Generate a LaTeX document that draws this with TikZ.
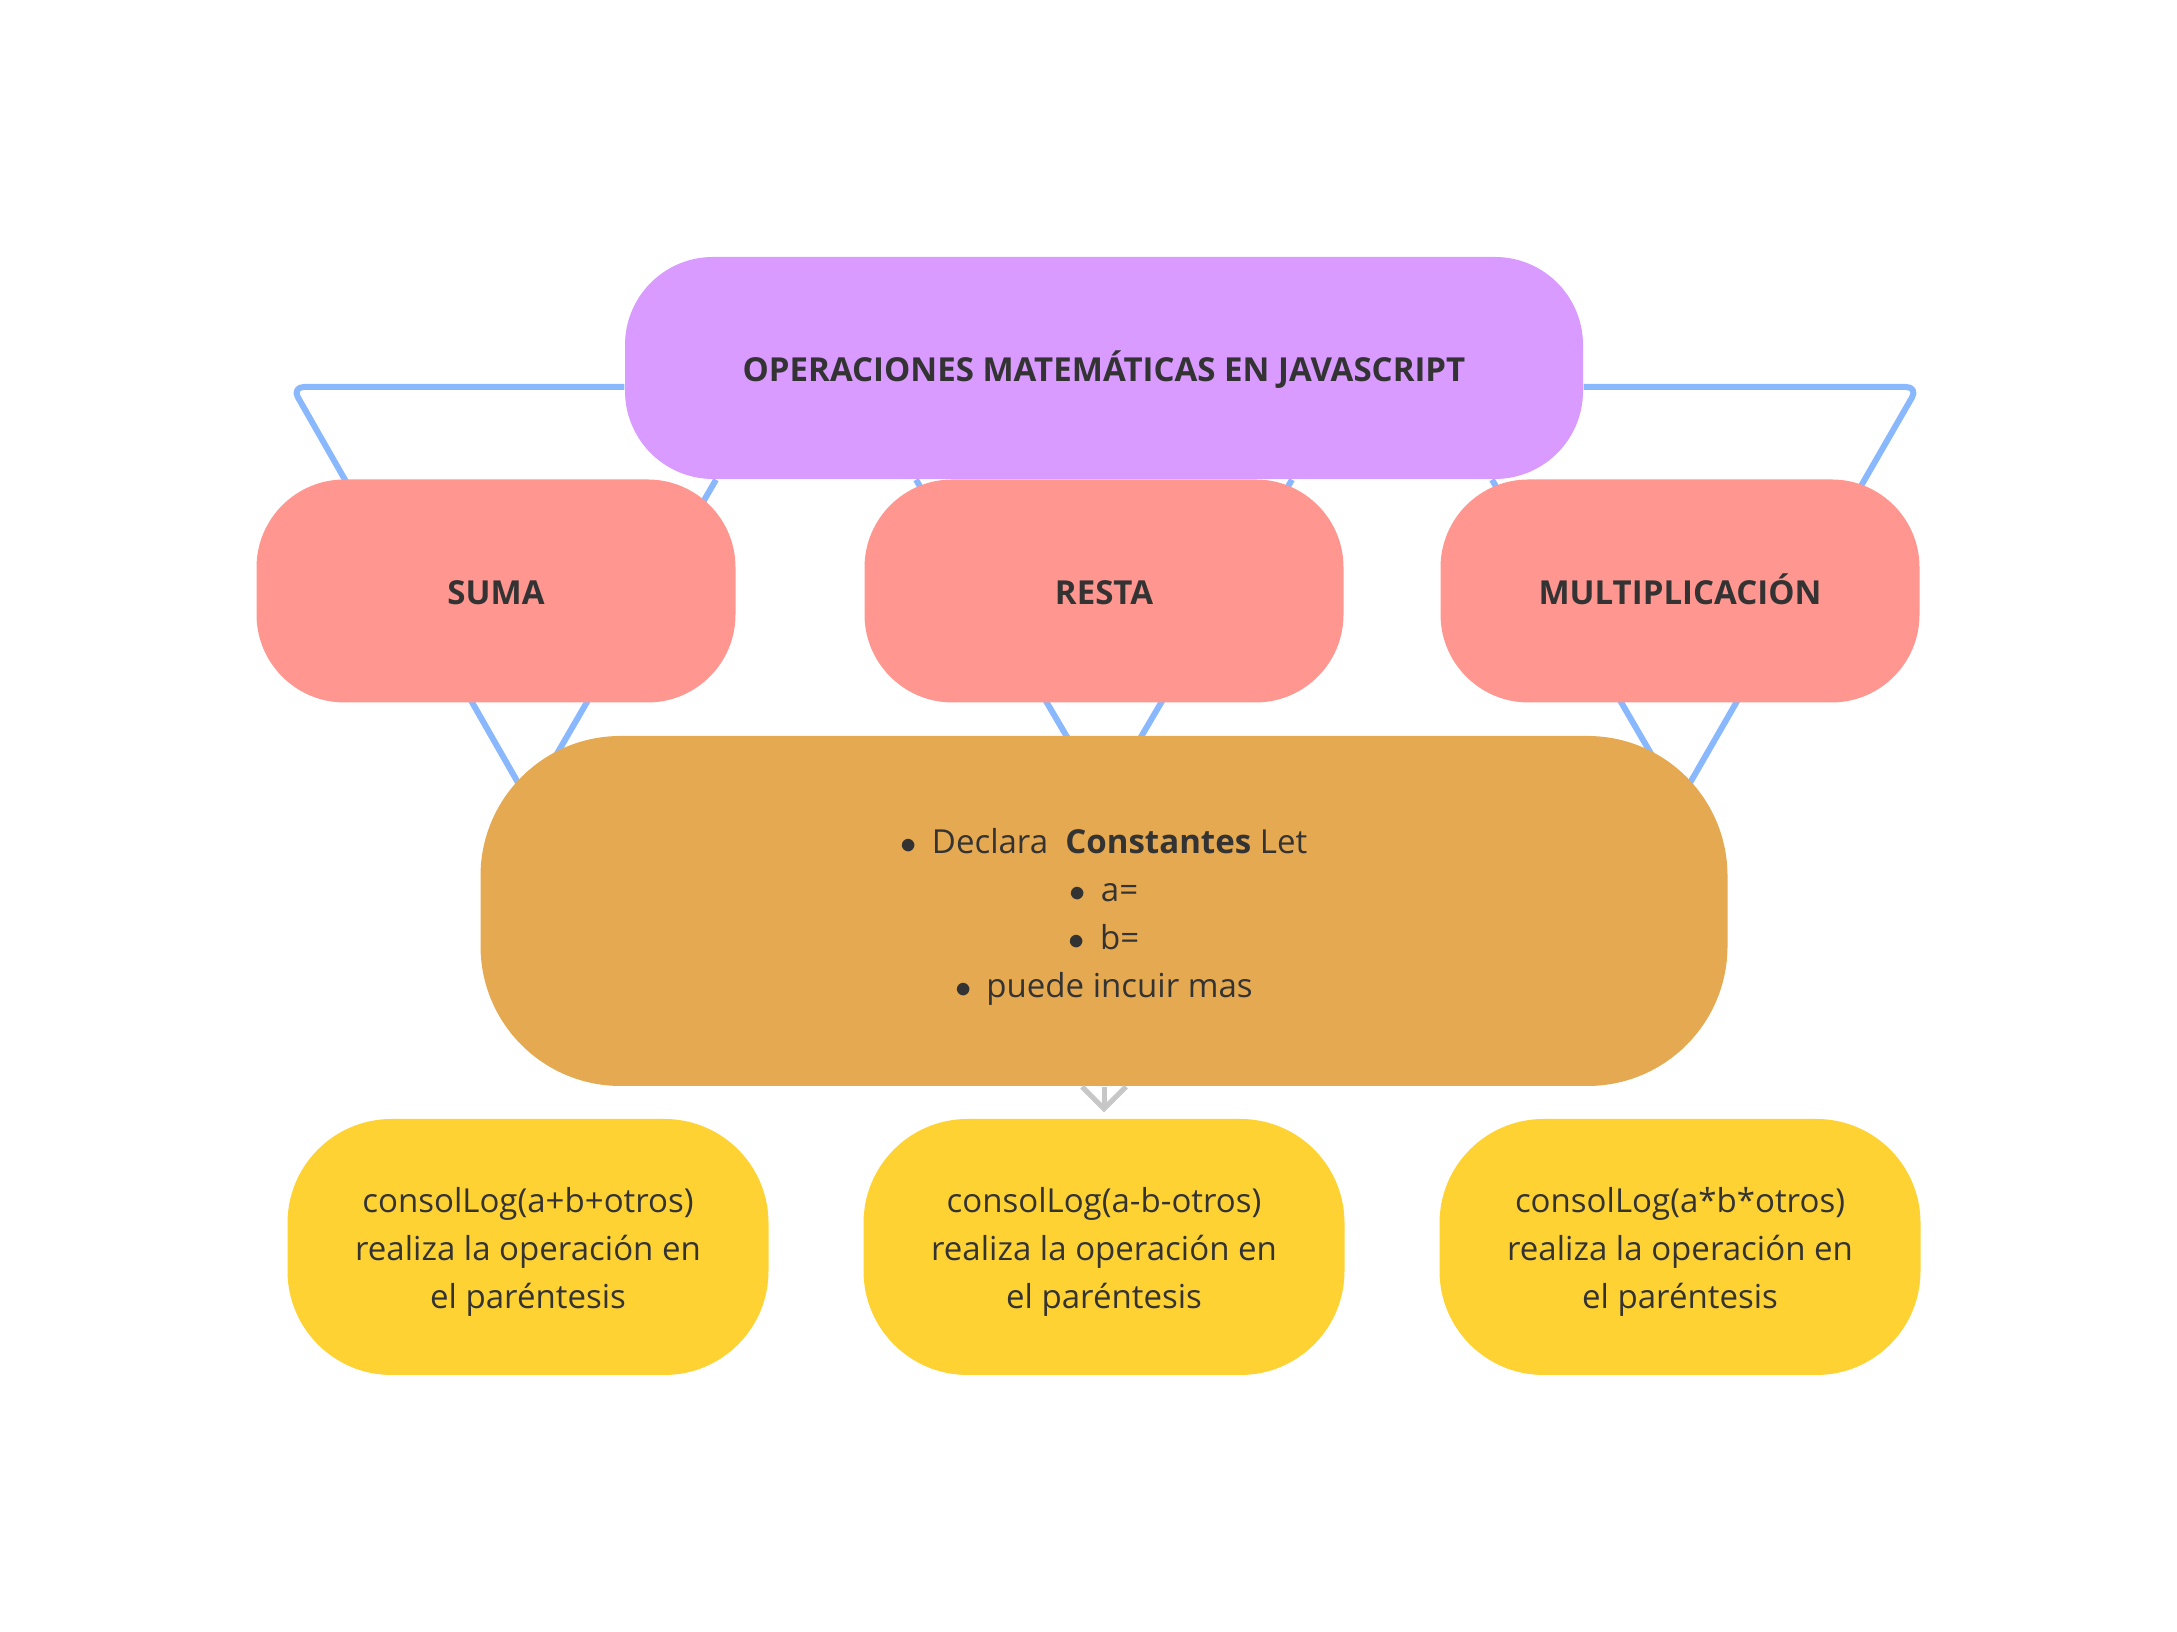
\documentclass[tikz,border=0pt]{standalone}
\usepackage{fontspec}
\setmainfont{Open Sans}
\usetikzlibrary{arrows.meta,backgrounds,calc,positioning}

\definecolor{titlecol}{HTML}{D99BFF}
\definecolor{opcol}{HTML}{FF968F}
\definecolor{infocol}{HTML}{E5A951}
\definecolor{codecol}{HTML}{FFD234}
\definecolor{linkcol}{HTML}{8AB8FF}
\definecolor{arrowcol}{HTML}{C7C7C7}
\definecolor{txt}{HTML}{333333}

\newcommand{\itm}{$\bullet$\hspace{0.45em}}

\tikzset{
  box/.style={inner sep=0pt, text=txt, align=center},
  capbox/.style={box, font=\bfseries, text height=0.27cm, text depth=0pt},
  opbox/.style={capbox, fill=opcol, minimum width=4.79cm, minimum height=2.23cm, rounded corners=0.88cm},
  codebox/.style={box, fill=codecol, minimum width=4.81cm, minimum height=2.56cm, rounded corners=1.04cm, text height=1.30cm},
  link/.style={draw=linkcol, line width=0.06cm, rounded corners=1.2mm, line join=round},
}

\begin{document}
\begin{tikzpicture}
    \useasboundingbox (0,0) rectangle (21.77,16.32);
    {\fontsize{9.4}{13.57}\selectfont
      \node(t) at (11.04,12.64) [capbox, fill=titlecol, minimum width=9.58cm, minimum height=2.22cm, rounded corners=0.88cm] {OPERACIONES MATEMÁTICAS EN JAVASCRIPT};

      \node(suma) at (4.96,10.41) [opbox] {SUMA};
      \node(resta) at (11.04,10.41) [opbox] {RESTA};
      \node(mult) at (16.80,10.41) [opbox] {MULTIPLICACIÓN};

      \node(info) at (11.04,7.21) [box, fill=infocol, minimum width=12.47cm, minimum height=3.50cm, rounded corners=1.4cm, text height=1.80cm]
        {\itm Declara\ \ \textbf{Constantes} Let\\ \itm a=\\ \itm b=\\ \itm puede incuir mas};

      \node(c1) at (5.28,3.85) [codebox] {consolLog(a+b+otros)\\ realiza la operación en\\ el paréntesis};
      \node(c2) at (11.04,3.85) [codebox] {consolLog(a-b-otros)\\ realiza la operación en\\ el paréntesis};
      \node(c3) at (16.80,3.85) [codebox] {consolLog(a*b*otros)\\ realiza la operación en\\ el paréntesis};

      \begin{scope}[on background layer]
        \coordinate(kl) at (2.92,12.45);
        \coordinate(kr) at (19.18,12.45);
        \coordinate(v1) at (5.29,8.30);
        \coordinate(v2) at (11.04,8.32);
        \coordinate(v3) at (16.79,8.30);
        \draw[link] ([yshift=-0.19cm]t.west) -- (kl) -- (v1) -- ([xshift=-3.88cm]t.south);
        \draw[link] ([xshift=-1.88cm]t.south) -- (v2) -- ([xshift=1.88cm]t.south);
        \draw[link] ([xshift=3.88cm]t.south) -- (v3) -- (kr) -- ([yshift=-0.19cm]t.east);
      \end{scope}

      \draw (info.south) edge[-{Straight Barb[length=2.2mm,width=4.4mm]}, arrowcol, line width=0.05cm, shorten >=0.6mm] (c2.north);
    }
\end{tikzpicture}
\end{document}
